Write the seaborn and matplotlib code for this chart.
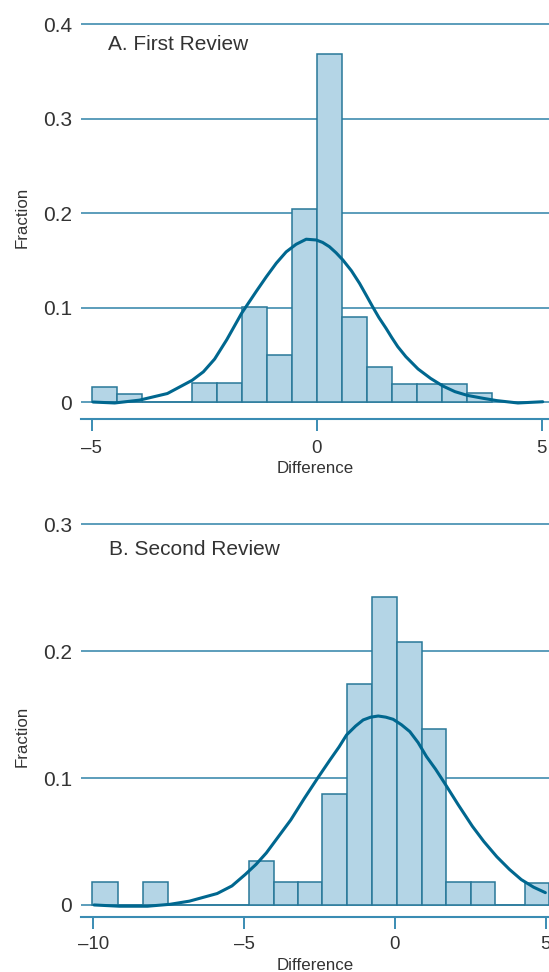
import matplotlib
matplotlib.use("Agg")
import matplotlib.pyplot as plt
import numpy as np
import seaborn as sns

# ---- Panel A: first review ----
a_edges = [-5.0, -4.44, -3.89, -3.33, -2.78, -2.22, -1.67, -1.11, -0.56,
           0.0, 0.56, 1.11, 1.67, 2.22, 2.78, 3.33, 3.89]
a_frac = [0.016, 0.008, 0.0, 0.0, 0.02, 0.02, 0.101, 0.05, 0.2045,
          0.369, 0.0904, 0.0374, 0.0187, 0.0187, 0.0187, 0.0099]
# smoothed density line
a_curve_x = [-4.97, -4.49, -3.94, -3.32, -2.77, -2.52, -2.27, -2.0, -1.67,
             -1.34, -1.12, -0.9, -0.68, -0.46, -0.235, -0.013, 0.13, 0.28,
             0.43, 0.58, 0.77, 0.95, 1.1, 1.24, 1.38, 1.54, 1.67, 1.80,
             1.98, 2.25, 2.53, 2.8, 3.07, 3.35, 3.69, 4.0, 4.47, 5.02]
a_curve_y = [0.0, -0.001, 0.002, 0.009, 0.023, 0.032, 0.0455, 0.066, 0.094,
             0.1175, 0.1327, 0.147, 0.159, 0.167, 0.1724, 0.1716, 0.169, 0.1645,
             0.158, 0.1504, 0.139, 0.1257, 0.113, 0.101, 0.0895, 0.078, 0.068, 0.0586,
             0.048, 0.035, 0.025, 0.017, 0.011, 0.007, 0.004, 0.0015, -0.001, 0.0003]
a_yticks = [0, 0.1, 0.2, 0.3, 0.4]
a_ylabels = ["0", "0.1", "0.2", "0.3", "0.4"]
a_xticks = [-5, 0, 5]
a_xlabels = ["\u20135", "0", "5"]

# ---- Panel B: second review ----
b_edges = [-10.03, -9.19, -8.34, -7.51, -4.85, -4.02, -3.21, -2.40, -1.58,
           -0.75, 0.055, 0.886, 1.69, 2.51, 3.32, 4.32, 5.12]
b_frac = [0.0184, 0.0, 0.0184, 0.0, 0.0347, 0.0184, 0.0184, 0.0872, 0.174,
          0.2425, 0.2075, 0.1384, 0.0184, 0.0184, 0.0, 0.0171]
b_curve_x = [-9.97, -9.13, -8.2, -7.46, -6.81, -5.89, -5.4, -4.96, -4.6, -4.26,
             -3.45, -3.0, -2.53, -2.15, -1.85, -1.60, -1.3, -1.05, -0.8, -0.55,
             -0.3, -0.056, 0.22, 0.497, 0.77, 1.05, 1.35, 1.65, 2.1, 2.57,
             2.95, 3.38, 3.8, 4.19, 4.6, 4.99]
b_curve_y = [0.0, -0.001, -0.001, 0.0005, 0.003, 0.009, 0.015, 0.024, 0.032, 0.041,
             0.067, 0.084, 0.101, 0.1143, 0.1245, 0.134, 0.141, 0.1458, 0.148, 0.1489,
             0.148, 0.1463, 0.142, 0.1366, 0.128, 0.1169, 0.107, 0.096, 0.079, 0.062,
             0.050, 0.038, 0.028, 0.020, 0.014, 0.0097]
b_yticks = [0, 0.1, 0.2, 0.3]
b_ylabels = ["0", "0.1", "0.2", "0.3"]
b_xticks = [-10, -5, 0, 5]
b_xlabels = ["\u201310", "\u20135", "0", "5"]

FILL = "#b4d5e6"
EDGE = "#287899"
GRID = "#2f82a8"
CURVE = "#00678f"
SPINE = "#3a8cb3"
TEXT = "#333333"

W, H = 549, 972
sns.set_theme(style="white")
plt.rcParams['font.family'] = ['Liberation Sans', 'DejaVu Sans']

fig = plt.figure(figsize=(W / 100, H / 100), dpi=100)


def add_px_axes(left, top, right, bottom):
    # box given in image pixels (origin top-left)
    return fig.add_axes([left / W, 1 - bottom / H, (right - left) / W, (bottom - top) / H])


def draw_panel(ax, edges, frac, cx, cy, xlim, ylim, yticks, ylabels,
               xticks, xlabels, spine_out, label_pad):
    centers = [(lo + hi) / 2 for lo, hi in zip(edges[:-1], edges[1:])]
    sns.histplot(x=centers, weights=frac, bins=edges, ax=ax, color=FILL,
                 edgecolor=EDGE, linewidth=1.1, alpha=1)
    sns.lineplot(x=cx, y=cy, ax=ax, color=CURVE, linewidth=2.2, sort=False,
                 solid_joinstyle="round", solid_capstyle="round")
    ax.set_xlim(*xlim)
    ax.set_ylim(*ylim)
    ax.set_xlabel("")
    ax.set_ylabel("")
    ax.set_axisbelow(True)
    ax.yaxis.grid(True, color=GRID, linewidth=1.1)
    ax.xaxis.grid(False)
    for side in ["left", "right", "top"]:
        ax.spines[side].set_visible(False)
    ax.spines["bottom"].set_color(SPINE)
    ax.spines["bottom"].set_linewidth(1.5)
    ax.spines["bottom"].set_position(("outward", spine_out))
    ax.set_yticks(yticks)
    ax.set_yticklabels(ylabels)
    ax.set_xticks(xticks)
    ax.set_xticklabels(xlabels)
    ax.tick_params(axis="y", length=0, pad=6.1, labelsize=15, labelcolor=TEXT)
    ax.tick_params(axis="x", direction="out", length=8.8, width=1.4, color=SPINE,
                   pad=label_pad, labelsize=13.4, labelcolor=TEXT, bottom=True)


# panel A: 0 at y=402px, 0.4 at y=24.3px
ax_a = add_px_axes(80.5, 20.5, 549, 407.7)
draw_panel(ax_a, a_edges, a_frac, a_curve_x, a_curve_y, (-5.25, 5.16), (-0.006, 0.404),
           a_yticks, a_ylabels, a_xticks, a_xlabels, 8.1, 6.5)

# panel B: 0 at y=905px, 0.3 at y=524.3px
ax_b = add_px_axes(80.5, 519.2, 549, 911.3)
draw_panel(ax_b, b_edges, b_frac, b_curve_x, b_curve_y, (-10.42, 5.11), (-0.005, 0.304),
           b_yticks, b_ylabels, b_xticks, b_xlabels, 4.3, 4.8)


# titles, axis labels (pixel positions)
def ptext(x, y, s, **kw):
    fig.text(x / W, 1 - y / H, s, color=TEXT, **kw)


ptext(108.3, 50, "A. First Review", fontsize=15, ha="left", va="baseline")
ptext(109.2, 555, "B. Second Review", fontsize=15, ha="left", va="baseline")
ptext(315, 473, "Difference", fontsize=12.2, ha="center", va="baseline")
ptext(315, 969.5, "Difference", fontsize=12.2, ha="center", va="baseline")
ptext(22.5, 217.5, "Fraction", fontsize=12.2, ha="center", va="center", rotation=90)
ptext(22.5, 736, "Fraction", fontsize=12.2, ha="center", va="center", rotation=90)

fig.savefig("out.png", dpi=100)
